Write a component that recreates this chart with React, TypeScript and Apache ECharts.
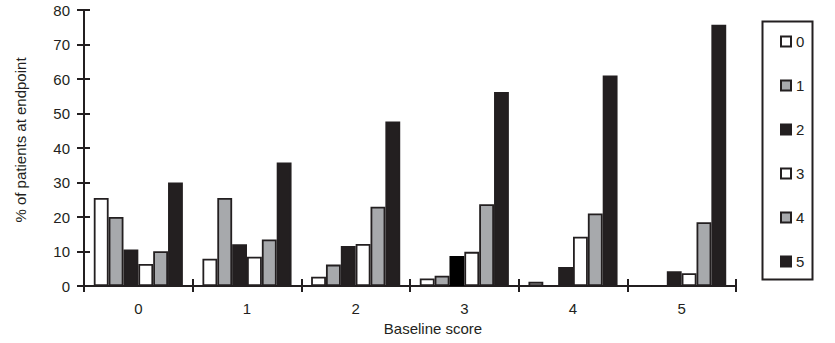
import React, { useEffect, useRef } from "react";
import * as echarts from "echarts";

const categories = ["0", "1", "2", "3", "4", "5"];
const seriesNames = ["0", "1", "2", "3", "4", "5"];
const s0 = [25.5, 7.9, 2.7, 2.2, 1.2, 0];
const s1 = [20, 25.5, 6.2, 3, 0, 0];
const s2 = [10.6, 12.1, 11.6, 8.7, 5.5, 4.3];
const s3 = [6.4, 8.5, 12.2, 9.9, 14.3, 3.7];
const s4 = [10.1, 13.5, 23, 23.7, 21, 18.5];
const s5 = [30, 35.8, 47.7, 56.2, 61, 75.7];
const yTicks = [0, 10, 20, 30, 40, 50, 60, 70, 80];

const DARK = "#231f20";
const GRAY = "#a7a9ac";
const WHITE = "#ffffff";
const fills = [WHITE, GRAY, DARK, WHITE, GRAY, DARK];
const allData = [s0, s1, s2, s3, s4, s5];

export default function App() {
  const ref = useRef<HTMLDivElement>(null);
  useEffect(() => {
    if (!ref.current) return;
    const chart = echarts.init(ref.current, null, { renderer: "svg" });
    const font = "'Liberation Sans', Arial, sans-serif";
    const FS = 15;
    const option: any = {
      animation: false,
      backgroundColor: "#ffffff",
      grid: { left: 84, top: 10, right: 99, bottom: 57, containLabel: false },
      legend: {
        orient: "vertical",
        left: 775,
        top: 29,
        itemWidth: 10,
        itemHeight: 10,
        itemGap: 29,
        icon: "rect",
        data: seriesNames,
        textStyle: { fontFamily: font, fontSize: FS, color: DARK, lineHeight: 14 },
        selectedMode: false,
      },
      xAxis: [
        {
          type: "category",
          data: categories,
          boundaryGap: true,
          axisLine: { show: true, lineStyle: { color: DARK, width: 2 } },
          axisTick: { show: true, inside: false, length: 6, lineStyle: { color: DARK, width: 2 } },
          axisLabel: { margin: 15, fontFamily: font, fontSize: FS, color: DARK },
          splitLine: { show: false },
        },
        {
          type: "category",
          data: categories,
          position: "bottom",
          boundaryGap: true,
          axisLine: { show: false },
          axisTick: { show: true, inside: true, length: 7, lineStyle: { color: DARK, width: 2 } },
          axisLabel: { show: false },
          splitLine: { show: false },
        },
      ],
      yAxis: [
        {
          type: "value",
          min: yTicks[0],
          max: yTicks[yTicks.length - 1],
          interval: 10,
          axisLine: { show: true, lineStyle: { color: DARK, width: 2 } },
          axisTick: { show: true, inside: false, length: 7, lineStyle: { color: DARK, width: 2 } },
          axisLabel: { margin: 14, fontFamily: font, fontSize: FS, color: DARK },
          splitLine: { show: false },
        },
        {
          type: "value",
          position: "left",
          min: yTicks[0],
          max: yTicks[yTicks.length - 1],
          interval: 10,
          axisLine: { show: false },
          axisTick: { show: true, inside: true, length: 6, lineStyle: { color: DARK, width: 2 } },
          axisLabel: { show: false },
          splitLine: { show: false },
        },
      ],
      series: allData.map((d, i) => ({
        name: seriesNames[i],
        type: "bar",
        xAxisIndex: 0,
        yAxisIndex: 0,
        data: d.map((v, j) =>
          i === 2 && j === 3 ? { value: v, itemStyle: { color: "#000000", borderColor: "#000000" } } : v
        ),
        barGap: "0%",
        barCategoryGap: "18%",
        itemStyle: { color: fills[i], borderColor: DARK, borderWidth: 1.8 },
      })),
      graphic: [
        {
          type: "rect",
          left: 760,
          top: 19,
          shape: { width: 50, height: 258 },
          style: { fill: "none", stroke: DARK, lineWidth: 2 },
          z: 10,
        },
        {
          type: "text",
          x: 20,
          y: 140,
          rotation: Math.PI / 2,
          style: {
            text: "% of patients at endpoint",
            fontFamily: font,
            fontSize: FS,
            fill: DARK,
            align: "center",
            verticalAlign: "middle",
          },
        },
        {
          type: "text",
          x: 433,
          y: 328,
          style: {
            text: "Baseline score",
            fontFamily: font,
            fontSize: FS,
            fill: DARK,
            align: "center",
            verticalAlign: "middle",
          },
        },
      ],
    };
    chart.setOption(option);
    return () => chart.dispose();
  }, []);
  return (
    <div
      ref={ref}
      style={{ position: "absolute", left: 0, top: 0, width: 835, height: 343 }}
    />
  );
}
